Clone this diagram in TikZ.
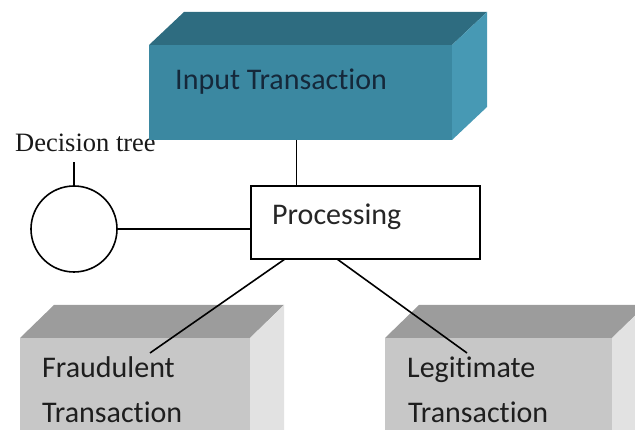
\documentclass[tikz,border=0pt]{standalone}
\usepackage{fontspec}
\setmainfont{Carlito}[Ligatures=NoCommon]
\newfontfamily\dtfont{Liberation Serif}
\definecolor{tealfront}{HTML}{3B88A1}
\definecolor{tealtop}{HTML}{2E6C80}
\definecolor{tealside}{HTML}{4799B4}
\definecolor{tealtext}{HTML}{15283A}
\definecolor{grayfront}{HTML}{C7C7C7}
\definecolor{graytop}{HTML}{9C9C9C}
\definecolor{grayside}{HTML}{E2E2E2}
\definecolor{graytext}{HTML}{1E1E1E}
\begin{document}
\begin{tikzpicture}[x=1pt,y=-1pt,
  face/.style={inner sep=0pt, outer sep=0pt, anchor=north west},
  lbl/.style={font=\fontsize{30}{36}\selectfont, inner sep=0pt, anchor=base west},
  conn/.style={draw=black, line width=1.6pt},
  procbox/.style={draw=black, fill=white, line width=1.6pt, inner sep=0pt, outer sep=0pt,
    minimum width=229pt, minimum height=73pt, anchor=north west},
  dtcircle/.style={circle, draw=black, fill=white, line width=1.6pt, inner sep=0pt, outer sep=0pt, minimum size=86pt}
]
\useasboundingbox (0,0) rectangle (635,430);
\clip (0,0) rectangle (635,430);

% Decision tree label
\node[anchor=base west, inner sep=0pt, font=\dtfont\fontsize{26.5}{30}\selectfont, text=black!90] (dtlbl) at (15,152) {Decision tree};

% Input Transaction box
\node[face, fill=tealfront, minimum width=303pt, minimum height=95pt] (input) at (149,45) {};
\fill[tealtop] (input.north west) -- ++(35,-33) -- ([shift={(35,-33)}]input.north east) -- (input.north east) -- cycle;
\fill[tealside] (input.north east) -- ++(35,-33) -- ([shift={(35,-33)}]input.south east) -- (input.south east) -- cycle;
\node[lbl, text=tealtext] (inputlbl) at (175,90) {Input Transaction};

% Processing
\node[procbox] (proc) at (251,186) {};
\node[lbl, text=black!85] (proclbl) at (272,225) {Processing};

% Decision tree circle
\node[dtcircle] (dt) at (74,229) {};
\coordinate (dttop) at (74,162);

% Bottom boxes
\node[face, fill=grayfront, minimum width=230pt, minimum height=130pt] (fraud) at (20,338) {};
\fill[graytop] (fraud.north west) -- ++(34,-33) -- ([shift={(34,-33)}]fraud.north east) -- (fraud.north east) -- cycle;
\fill[grayside] (fraud.north east) -- ++(34,-33) -- ([shift={(34,-33)}]fraud.south east) -- (fraud.south east) -- cycle;
\node[lbl, text=graytext] (fraudA) at (42,378) {Fraudulent};
\node[lbl, text=graytext] (fraudB) at (42,422) {Transaction};

\node[face, fill=grayfront, minimum width=227pt, minimum height=130pt] (legit) at (385,338) {};
\fill[graytop] (legit.north west) -- ++(34,-33) -- ([shift={(34,-33)}]legit.north east) -- (legit.north east) -- cycle;
\fill[grayside] (legit.north east) -- ++(34,-33) -- ([shift={(34,-33)}]legit.south east) -- (legit.south east) -- cycle;
\node[lbl, text=graytext] (legitA) at (407,378) {Legitimate};
\node[lbl, text=graytext] (legitB) at (408,422) {Transaction};

\coordinate (fraudend) at (150,353);
\coordinate (legitend) at (467,353);

% Connectors
\draw[conn] ([xshift=-4pt]input.south) -- ([xshift=-4pt]input.south |- proc.north);
\draw[conn] (dt.north) -- (dttop);
\draw[conn] (dt.east) -- (dt.east -| proc.west);
\draw[conn] ([xshift=34pt]proc.south west) -- (fraudend);
\draw[conn] ([xshift=86pt]proc.south west) -- (legitend);
\end{tikzpicture}
\end{document}
